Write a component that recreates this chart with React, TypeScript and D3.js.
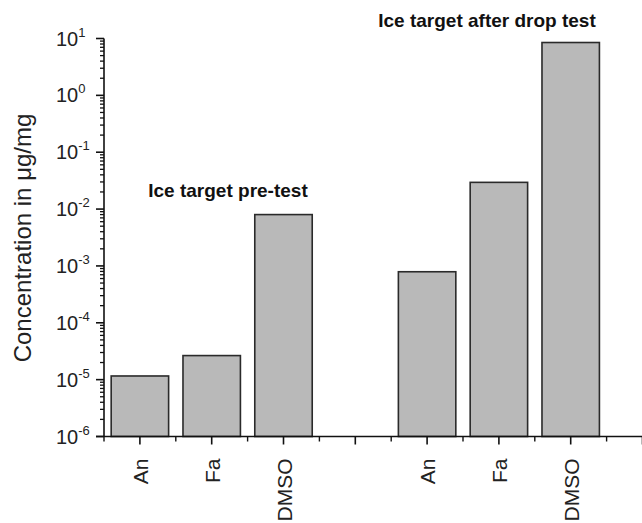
import * as d3 from "d3";

const categories = ["An", "Fa", "DMSO", "", "An", "Fa", "DMSO"];
// concentration in µg/mg
const preTest = [1.16e-5, 2.65e-5, 8.0e-3];
const afterDrop = [7.9e-4, 2.95e-2, 8.5];
const groupLabels = ["Ice target pre-test", "Ice target after drop test"];
const yTicks = [-6, -5, -4, -3, -2, -1, 0, 1];

const W = 642;
const H = 523;
const font = "'Liberation Sans', Arial, Helvetica, sans-serif";

export default function App() {
  const x = d3.scaleLinear().domain([0.5, 8.5]).range([104, 104 + 8 * 71.8]);
  const y = d3.scaleLog().domain([1e-6, 10]).range([436.5, 38.5]);
  const bw = (x(1) - x(0)) * 0.8;

  const bars = [
    ...preTest.map((v, i) => ({ pos: i + 1, v })),
    ...afterDrop.map((v, i) => ({ pos: i + 5, v })),
  ];

  const minorY: number[] = [];
  yTicks.slice(0, -1).forEach((e) => {
    for (let k = 2; k <= 9; k++) minorY.push(k * Math.pow(10, e));
  });

  const majorX = d3.range(1, 9);
  const minorX = d3.range(0.5, 9, 1);
  const x0 = x(0.5);
  const yb = y(1e-6);

  return (
    <svg
      width={W}
      height={H}
      style={{ position: "absolute", left: 0, top: 0, background: "#fff" }}
      fontFamily={font}
    >
      {bars.map((b, i) => (
        <rect
          key={i}
          x={x(b.pos) - bw / 2}
          y={y(b.v)}
          width={bw}
          height={yb - y(b.v)}
          fill="#b9b9b9"
          stroke="#2a2a2a"
          strokeWidth={1.6}
        />
      ))}

      {/* y axis */}
      <line x1={x0} x2={x0} y1={y(10)} y2={yb} stroke="#111" strokeWidth={1.6} />
      {yTicks.map((e) => (
        <g key={e}>
          <line
            x1={x0 - 8}
            x2={x0}
            y1={y(Math.pow(10, e))}
            y2={y(Math.pow(10, e))}
            stroke="#111"
            strokeWidth={1.6}
          />
          <text x={56} y={y(Math.pow(10, e)) + 7} fontSize={20} fill="#222">
            10
            <tspan dy={-9} fontSize={13}>
              {e}
            </tspan>
          </text>
        </g>
      ))}
      {minorY.map((v, i) => (
        <line
          key={i}
          x1={x0 - 4}
          x2={x0}
          y1={y(v)}
          y2={y(v)}
          stroke="#111"
          strokeWidth={1.3}
        />
      ))}

      {/* x axis */}
      <line x1={x0 - 8} x2={W} y1={yb} y2={yb} stroke="#111" strokeWidth={1.6} />
      {majorX.map((p) => (
        <line key={p} x1={x(p)} x2={x(p)} y1={yb} y2={yb + 8} stroke="#111" strokeWidth={1.6} />
      ))}
      {minorX.map((p) => (
        <line key={p} x1={x(p)} x2={x(p)} y1={yb} y2={yb + 5} stroke="#111" strokeWidth={1.4} />
      ))}
      {categories.map((c, i) => (
        <text
          key={i}
          transform={`translate(${x(i + 1) + 8},${yb + 22}) rotate(-90)`}
          textAnchor="end"
          fontSize={21}
          fill="#222"
        >
          {c}
        </text>
      ))}

      {/* axis title */}
      <text
        transform={`translate(31,238) rotate(-90)`}
        textAnchor="middle"
        fontSize={24}
        fill="#222"
      >
        Concentration in μg/mg
      </text>

      {/* group annotations */}
      <text x={228} y={197} textAnchor="middle" fontSize={19} fontWeight="bold" fill="#111">
        {groupLabels[0]}
      </text>
      <text x={487} y={27} textAnchor="middle" fontSize={19} fontWeight="bold" fill="#111">
        {groupLabels[1]}
      </text>
    </svg>
  );
}
